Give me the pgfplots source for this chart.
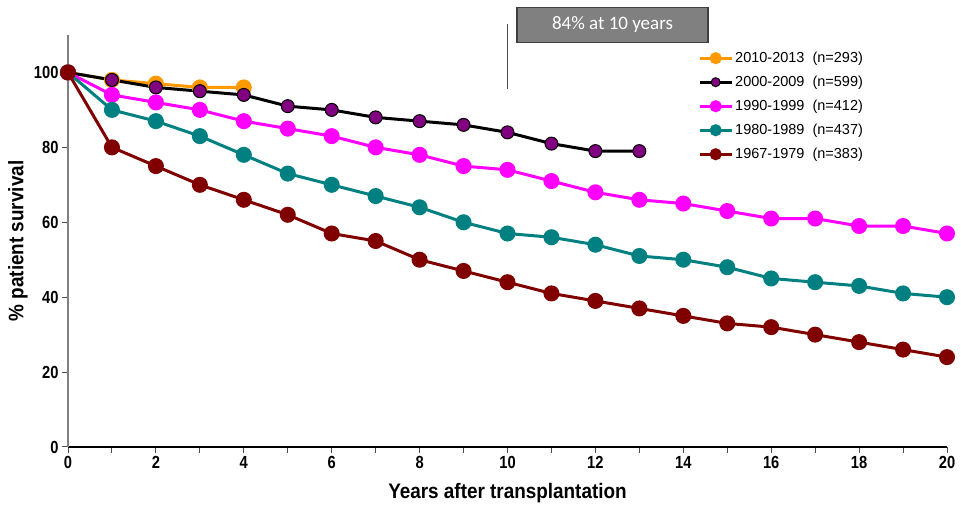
\documentclass[border=0pt]{standalone}
\usepackage{fontspec}
\setmainfont{Liberation Sans}
\newfontfamily\calibri{Carlito}
\newfontfamily\tickfont[FakeStretch=0.84]{Liberation Sans}
\newfontfamily\labfont[FakeStretch=0.9]{Liberation Sans}
\usepackage{pgfplots}
\pgfplotsset{compat=1.18}
\definecolor{corange}{HTML}{FF9900}
\definecolor{cpurple}{HTML}{800080}
\definecolor{cmagenta}{HTML}{FF00FF}
\definecolor{cteal}{HTML}{008080}
\definecolor{cred}{HTML}{800000}
\begin{document}
\begin{tikzpicture}
\begin{axis}[
  scale only axis, width=879pt, height=412pt,
  xmin=0, xmax=20, ymin=0, ymax=110,
  xtick={0,2,...,20}, minor xtick={1,3,...,19},
  ytick={0,20,...,100},
  axis x line*=bottom, axis y line*=left,
  axis line style={-},
  x axis line style={black, line width=1.3pt},
  y axis line style={gray, line width=1.3pt},
  tick align=outside, major tick length=6pt, minor tick length=6pt,
  every tick/.style={gray!60!black, line width=1pt},
  ticklabel style={font=\tickfont\fontsize{17.5}{20}\selectfont\bfseries},
  /pgf/number format/assume math mode=true,
  xlabel={Years after transplantation},
  ylabel={\% patient survival},
  label style={font=\labfont\fontsize{21}{24}\selectfont\bfseries},
  xlabel style={at={(axis description cs:0.5,-0.1117)}, anchor=center},
  ylabel style={at={(axis description cs:-0.0569,0.5)}, anchor=center},
  clip=false,
  legend cell align=left,
  legend style={at={(axis description cs:0.7133,0.9684)}, anchor=north west,
    draw=none, fill=none, font=\fontsize{14.5}{17}\selectfont, row sep=8pt},
  legend image code/.code={\draw[mark repeat=2,mark phase=2,#1,mark size=4.5pt] plot coordinates {(0pt,0pt) (16pt,0pt) (32pt,0pt)};},
  every axis plot/.append style={line width=3pt, mark=*, mark size=6.5pt},
]
\addplot[corange, mark options={fill=corange, draw=corange}] coordinates {
(0,100)(1,98)(2,97)(3,96)(4,96)};
\addlegendentry{2010-2013\ \ (n=293)}
\addplot[black, mark options={fill=cpurple, draw=black, line width=1pt}] coordinates {
(0,100)(1,98)(2,96)(3,95)(4,94)(5,91)(6,90)(7,88)(8,87)(9,86)(10,84)(11,81)(12,79)(13,79)};
\addlegendentry{2000-2009\ \ (n=599)}
\addplot[cmagenta, mark options={fill=cmagenta, draw=cmagenta}] coordinates {
(0,100)(1,94)(2,92)(3,90)(4,87)(5,85)(6,83)(7,80)(8,78)(9,75)(10,74)(11,71)(12,68)(13,66)(14,65)(15,63)(16,61)(17,61)(18,59)(19,59)(20,57)};
\addlegendentry{1990-1999\ \ (n=412)}
\addplot[cteal, mark options={fill=cteal, draw=cteal}] coordinates {
(0,100)(1,90)(2,87)(3,83)(4,78)(5,73)(6,70)(7,67)(8,64)(9,60)(10,57)(11,56)(12,54)(13,51)(14,50)(15,48)(16,45)(17,44)(18,43)(19,41)(20,40)};
\addlegendentry{1980-1989\ \ (n=437)}
\addplot[cred, mark options={fill=cred, draw=cred}] coordinates {
(0,100)(1,80)(2,75)(3,70)(4,66)(5,62)(6,57)(7,55)(8,50)(9,47)(10,44)(11,41)(12,39)(13,37)(14,35)(15,33)(16,32)(17,30)(18,28)(19,26)(20,24)};
\addlegendentry{1967-1979\ \ (n=383)}
\draw[gray!60!black, line width=1.5pt] (axis cs:10,95.7) -- (axis cs:10,113);
\draw[fill=gray, draw=black!75, line width=1.5pt] (axis cs:10.216,108) rectangle (axis cs:14.562,117.33);
\node[white, font=\calibri\fontsize{19}{22}\selectfont] at (axis cs:12.389,112.67) {84\% at 10 years};
\path (rel axis cs:-0.07736,-0.14806) rectangle (rel axis cs:1.01593,1.08495);
\end{axis}
\end{tikzpicture}
\end{document}
